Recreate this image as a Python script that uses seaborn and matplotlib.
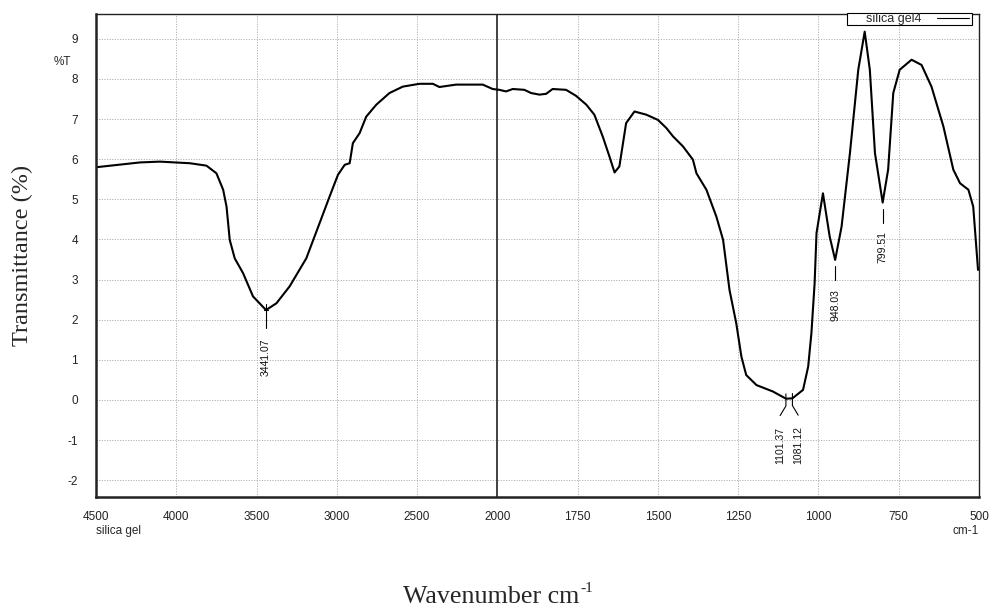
import numpy as np
import pandas as pd
import matplotlib
matplotlib.use("Agg")
import matplotlib.pyplot as plt
from matplotlib.patches import Rectangle
import seaborn as sns

# ---- data ----
wavenumber = [4500, 4226, 4102, 3915, 3812, 3750, 3708, 3687, 3667, 3636, 3584, 3522,
              3441, 3376, 3294, 3190, 3107, 3045, 2993, 2951, 2920, 2900, 2858, 2817,
              2754, 2672, 2589, 2485, 2402, 2361, 2257, 2091, 2029, 1994, 1973, 1952,
              1916, 1895, 1869, 1848, 1828, 1786, 1755, 1723, 1698, 1672, 1651, 1635,
              1620, 1599, 1573, 1536, 1500, 1474, 1453, 1422, 1391, 1380, 1349, 1318,
              1297, 1277, 1256, 1240, 1225, 1193, 1142, 1101, 1081, 1048, 1032, 1022,
              1012, 1006, 986, 965, 948, 928, 902, 876, 856, 840, 824, 800, 783, 767,
              747, 710, 679, 648, 611, 580, 559, 533, 518, 507, 503]
transmittance = [5.80, 5.92, 5.94, 5.90, 5.84, 5.65, 5.24, 4.82, 3.99, 3.53, 3.16, 2.58,
                 2.24, 2.41, 2.83, 3.53, 4.41, 5.07, 5.61, 5.86, 5.90, 6.40, 6.65, 7.06,
                 7.36, 7.65, 7.81, 7.88, 7.88, 7.80, 7.86, 7.86, 7.75, 7.73, 7.69, 7.75,
                 7.73, 7.65, 7.61, 7.63, 7.75, 7.73, 7.58, 7.36, 7.11, 6.57, 6.07, 5.67,
                 5.82, 6.90, 7.19, 7.11, 6.98, 6.78, 6.57, 6.32, 5.99, 5.65, 5.24, 4.57,
                 3.99, 2.74, 1.91, 1.08, 0.62, 0.37, 0.21, 0.03, 0.04, 0.25, 0.83, 1.66,
                 2.90, 4.16, 5.15, 4.07, 3.49, 4.32, 6.15, 8.23, 9.18, 8.23, 6.15, 4.92,
                 5.74, 7.65, 8.23, 8.48, 8.35, 7.81, 6.82, 5.74, 5.40, 5.24, 4.82, 3.66, 3.24]

peak_x = [3441.07, 948.03, 799.51]
peak_y = [2.24, 3.49, 4.92]
peak_labels = ["3441.07", "948.03", "799.51"]
pair_x = [1101.37, 1081.12]
pair_y = [0.03, 0.04]
pair_labels = ["1101.37", "1081.12"]

x_major = [4500, 4000, 3500, 3000, 2500, 2000, 1750, 1500, 1250, 1000, 750, 500]
y_major = list(range(-2, 10))

df = pd.DataFrame({"wavenumber": wavenumber, "T": transmittance})

sns.set_style("white")
plt.rcParams["font.family"] = ["Liberation Sans", "DejaVu Sans"]

fig = plt.figure(figsize=(9.91, 6.08), dpi=100)
ax = fig.add_axes([96/991, 1-497/608, (979-96)/991, (497-14)/608])

# broken (piecewise-linear) wavenumber scale: 2000-500 is stretched x2
def fwd(x):
    x = np.asarray(x, float)
    return np.where(x <= 2000, 2.0 * x, x + 2000.0)

def inv(u):
    u = np.asarray(u, float)
    return np.where(u <= 4000, u / 2.0, u - 2000.0)

ax.set_xscale("function", functions=(fwd, inv))

sns.lineplot(data=df, x="wavenumber", y="T", ax=ax, color="black", lw=1.5,
             sort=False, estimator=None, label="silica gel4", legend=False)

ax.set_xlim(4500, 500)
ax.set_ylim(-2.42, 9.62)

x_minor = [v for v in range(4400, 2000, -100) if v % 500] + \
          [v for v in range(1950, 500, -50) if v % 250]
ax.set_xticks(x_major)
ax.set_xticklabels([str(v) for v in x_major])
ax.set_xticks(x_minor, minor=True)
ax.set_yticks(y_major)
ax.set_yticklabels([str(v) for v in y_major])
ax.set_yticks(np.arange(-2.4, 9.61, 0.2), minor=True)

ax.tick_params(axis="y", which="major", length=10, width=1.2, labelsize=8.5, pad=3)
ax.tick_params(axis="y", which="minor", length=5, width=1.2)
ax.tick_params(axis="x", which="major", length=7, width=1.2, labelsize=8.5, pad=3)
ax.tick_params(axis="x", which="minor", length=4, width=1.2)
ax.tick_params(direction="out", colors="#222222")

for v in x_major[1:-1]:
    if v != 2000:
        ax.axvline(v, color="#b0b0b0", lw=0.7, ls=(0, (1.2, 1.5)), zorder=0)
for v in y_major:
    ax.axhline(v, color="#b0b0b0", lw=0.7, ls=(0, (1.2, 1.5)), zorder=0)
ax.axvline(2000, color="#333333", lw=1.3, zorder=1)

for s in ax.spines.values():
    s.set_color("#222222")
    s.set_linewidth(1.0)
ax.spines["left"].set_linewidth(1.8)
ax.spines["bottom"].set_linewidth(1.8)

ax.set_xlabel("")
ax.set_ylabel("")

# peak annotations
ann_font = dict(family=["Liberation Sans Narrow", "Liberation Sans", "DejaVu Sans"],
                fontsize=7.5, rotation=90, ha="center", va="top", color="#111111")
for i, (px, py, lab) in enumerate(zip(peak_x, peak_y, peak_labels)):
    if i == 0:
        ax.plot([px, px], [py + 0.15, py - 0.45], color="black", lw=0.8)
        ax.plot([px - 12, px + 12], [py, py], color="black", lw=0.8)
    else:
        ax.plot([px, px], [py - 0.15, py - 0.5], color="black", lw=0.8)
    ax.text(px, py - 0.72, lab, **ann_font)
for px, py, lab, side in zip(pair_x, pair_y, pair_labels, [1, -1]):
    xo = px + side * 18
    ax.plot([px, px, xo], [py + 0.12, py - 0.18, py - 0.42], color="black", lw=0.8)
    ax.text(xo, py - 0.7, lab, **ann_font)

# legend (frame drawn separately to match the reference's padding)
ax.add_patch(Rectangle((847/991, 1-25/608), (972-847)/991, 12/608,
                       transform=fig.transFigure, facecolor="white",
                       edgecolor="black", lw=0.8, zorder=8, clip_on=False))
leg = ax.legend(loc="center right", bbox_to_anchor=(969/991, 1-19/608),
                bbox_transform=fig.transFigure, markerfirst=False, fontsize=9,
                frameon=False, borderpad=0.0, borderaxespad=0,
                handlelength=2.6, handletextpad=1.2)
leg.set_zorder(9)
leg.get_lines()[0].set_linewidth(0.8)

fig.text(62/991, 1-62/608, "%T", fontsize=8.5, ha="center", va="center")
fig.text(96/991, 1-531/608, "silica gel", fontsize=8.5, ha="left", va="center")
fig.text(979/991, 1-531/608, "cm-1", fontsize=8.5, ha="right", va="center")

serif = ["Liberation Serif", "DejaVu Serif"]
fig.text(22/991, 1-255/608, "Transmittance (%)", family=serif, fontsize=17.5,
         rotation=90, ha="center", va="center")
fig.text(579/991, 1-603/608, "Wavenumber cm", family=serif,
         fontsize=18.7, ha="right", va="baseline")
fig.text(580/991, 1-592/608, "-1", family=serif, fontsize=11, ha="left", va="baseline")

fig.savefig("out.png", dpi=100)
